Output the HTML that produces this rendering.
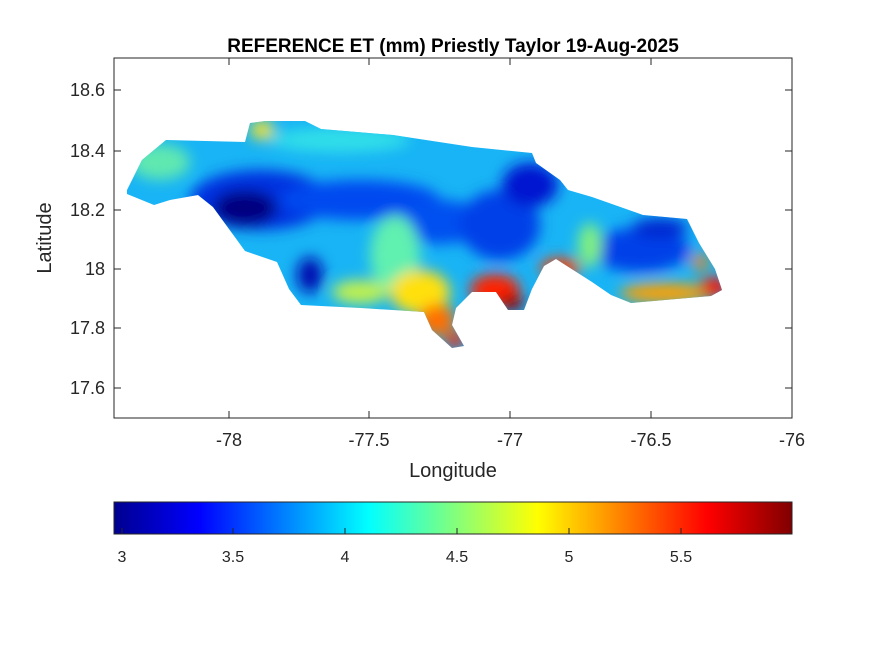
<!DOCTYPE html>
<html><head><meta charset="utf-8"><style>
body{margin:0;background:#fff;}
svg{display:block;font-family:"Liberation Sans",sans-serif;}
</style></head><body>
<svg width="875" height="656" viewBox="0 0 875 656" xmlns="http://www.w3.org/2000/svg">
<defs>
<linearGradient id="jet" x1="0" x2="1" y1="0" y2="0">
<stop offset="0" stop-color="#00008f"/>
<stop offset="0.125" stop-color="#0000ff"/>
<stop offset="0.375" stop-color="#00ffff"/>
<stop offset="0.625" stop-color="#ffff00"/>
<stop offset="0.875" stop-color="#ff0000"/>
<stop offset="1" stop-color="#800000"/>
</linearGradient>
<clipPath id="isl"><polygon points="127,190 142,160 166,140 245,142 250,123 265,121 305,121 321,129 393,135 472,147 532,153 536,163 560,180 568,190 592,197 643,215 687,219 699,243 715,269 722,290 711,296 631,303 611,295 592,282 556,259 544,266 532,289 524,310 508,310 496,292 472,292 456,308 452,325 464,346 452,348 432,330 424,312 361,308 301,305 289,289 277,262 245,251 213,207 198,195 170,200 154,205 127,194"/></clipPath>
<filter id="bl" x="-20%" y="-20%" width="140%" height="140%"><feGaussianBlur stdDeviation="7"/></filter>
</defs>
<rect x="114" y="58" width="678" height="360" fill="#fff" stroke="#262626" stroke-width="1"/>
<g clip-path="url(#isl)">
<rect x="110" y="110" width="630" height="250" fill="#18b4f5"/>
<g filter="url(#bl)">
<ellipse cx="160" cy="162" rx="30" ry="18" fill="#60e8b0"/>
<ellipse cx="262" cy="130" rx="12" ry="10" fill="#f0e030"/>
<ellipse cx="340" cy="140" rx="70" ry="12" fill="#30e0e8"/>
<ellipse cx="260" cy="200" rx="70" ry="30" fill="#0030e0"/>
<ellipse cx="245" cy="208" rx="32" ry="18" fill="#000080"/>
<ellipse cx="360" cy="200" rx="80" ry="20" fill="#0048f0"/>
<ellipse cx="440" cy="222" rx="45" ry="22" fill="#0050f0"/>
<ellipse cx="500" cy="225" rx="40" ry="35" fill="#0040e8"/>
<ellipse cx="530" cy="185" rx="28" ry="22" fill="#0018d0"/>
<ellipse cx="640" cy="250" rx="50" ry="22" fill="#0040e8"/>
<ellipse cx="660" cy="228" rx="28" ry="10" fill="#0028d0"/>
<ellipse cx="310" cy="275" rx="13" ry="18" fill="#0010b0"/>
<ellipse cx="395" cy="255" rx="25" ry="40" fill="#60f0b0"/>
<ellipse cx="420" cy="292" rx="30" ry="22" fill="#ffe010"/>
<ellipse cx="437" cy="320" rx="18" ry="16" fill="#ff7000"/>
<ellipse cx="455" cy="340" rx="10" ry="8" fill="#ff2000"/>
<ellipse cx="360" cy="292" rx="28" ry="12" fill="#c0f050"/>
<ellipse cx="495" cy="290" rx="25" ry="16" fill="#ff2000"/>
<ellipse cx="512" cy="303" rx="12" ry="8" fill="#900000"/>
<ellipse cx="560" cy="268" rx="20" ry="10" fill="#ff4000"/>
<ellipse cx="590" cy="245" rx="12" ry="22" fill="#80f080"/>
<ellipse cx="665" cy="293" rx="45" ry="10" fill="#ffa000"/>
<ellipse cx="714" cy="287" rx="14" ry="10" fill="#ff1000"/>
<ellipse cx="700" cy="262" rx="8" ry="8" fill="#ff8000"/>
</g>
</g>
<g stroke="#262626" stroke-width="1">
<line x1="229" y1="418" x2="229" y2="411"/><line x1="369" y1="418" x2="369" y2="411"/><line x1="510" y1="418" x2="510" y2="411"/><line x1="651" y1="418" x2="651" y2="411"/>
<line x1="229" y1="58" x2="229" y2="65"/><line x1="369" y1="58" x2="369" y2="65"/><line x1="510" y1="58" x2="510" y2="65"/><line x1="651" y1="58" x2="651" y2="65"/>
<line x1="114" y1="90" x2="121" y2="90"/><line x1="114" y1="151" x2="121" y2="151"/><line x1="114" y1="210" x2="121" y2="210"/><line x1="114" y1="269" x2="121" y2="269"/><line x1="114" y1="328" x2="121" y2="328"/><line x1="114" y1="388" x2="121" y2="388"/>
<line x1="792" y1="90" x2="785" y2="90"/><line x1="792" y1="151" x2="785" y2="151"/><line x1="792" y1="210" x2="785" y2="210"/><line x1="792" y1="269" x2="785" y2="269"/><line x1="792" y1="328" x2="785" y2="328"/><line x1="792" y1="388" x2="785" y2="388"/>
</g>
<g font-size="18" fill="#262626" text-anchor="middle">
<text x="229" y="446">-78</text><text x="369" y="446">-77.5</text><text x="510" y="446">-77</text><text x="651" y="446">-76.5</text><text x="792" y="446">-76</text>
</g>
<g font-size="18" fill="#262626" text-anchor="end">
<text x="105" y="96">18.6</text><text x="105" y="157">18.4</text><text x="105" y="216">18.2</text><text x="105" y="275">18</text><text x="105" y="334">17.8</text><text x="105" y="394">17.6</text>
</g>
<text x="453" y="477" font-size="20" fill="#262626" text-anchor="middle">Longitude</text>
<text transform="translate(51,238) rotate(-90)" font-size="20" fill="#262626" text-anchor="middle">Latitude</text>
<text x="453" y="52" font-size="19" font-weight="bold" fill="#000" text-anchor="middle">REFERENCE ET (mm) Priestly Taylor 19-Aug-2025</text>
<rect x="114" y="502" width="678" height="32" fill="url(#jet)" stroke="#262626" stroke-width="1"/>
<g stroke="#262626" stroke-width="1">
<line x1="122" y1="534" x2="122" y2="528"/><line x1="233" y1="534" x2="233" y2="528"/><line x1="345" y1="534" x2="345" y2="528"/><line x1="457" y1="534" x2="457" y2="528"/><line x1="569" y1="534" x2="569" y2="528"/><line x1="681" y1="534" x2="681" y2="528"/>
</g>
<g font-size="16" fill="#262626" text-anchor="middle">
<text x="122" y="562">3</text><text x="233" y="562">3.5</text><text x="345" y="562">4</text><text x="457" y="562">4.5</text><text x="569" y="562">5</text><text x="681" y="562">5.5</text>
</g>
</svg>
</body></html>
